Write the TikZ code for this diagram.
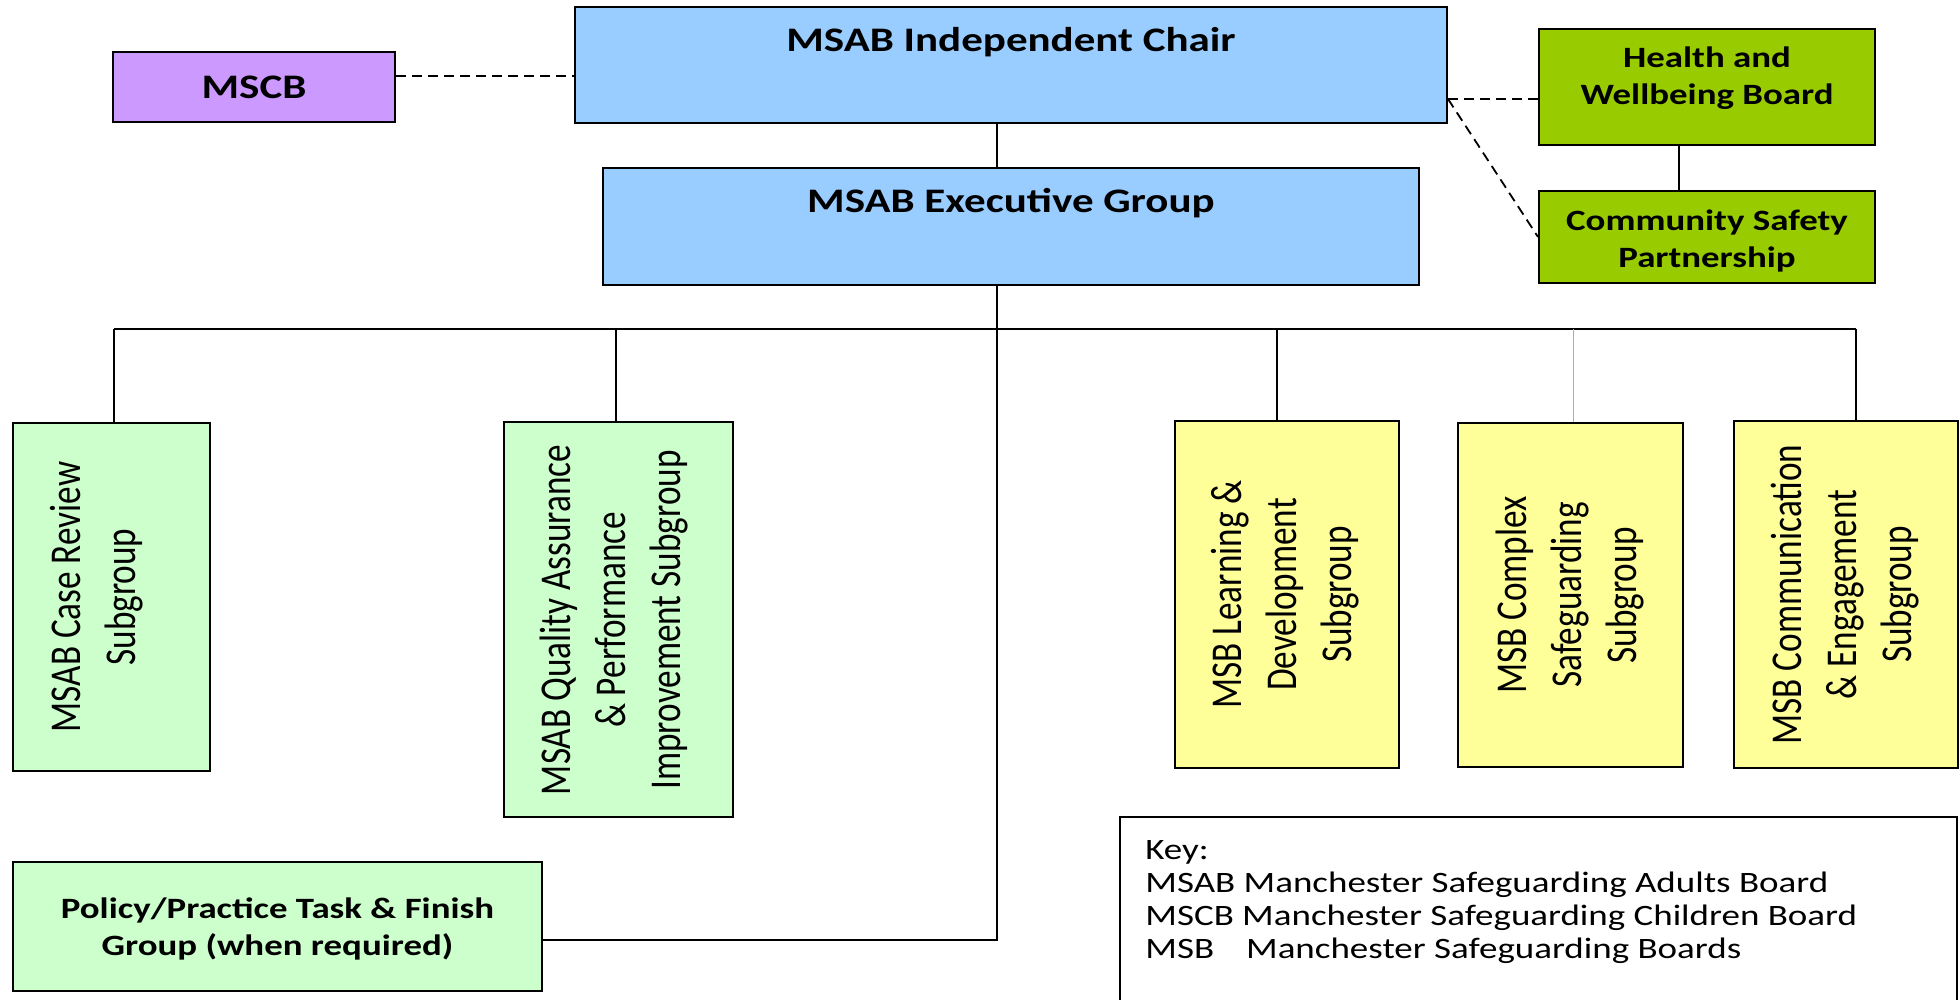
\documentclass[tikz,border=0pt]{standalone}
\usepackage{fontspec}
\setmainfont{Carlito}[FakeStretch=1.25]
\newfontfamily\rotfont{Carlito}[FakeStretch=0.8]

\definecolor{chairblue}{HTML}{99CCFF}
\definecolor{boardpurple}{HTML}{CC99FF}
\definecolor{partnergreen}{HTML}{99CC00}
\definecolor{subgreen}{HTML}{CCFFCC}
\definecolor{subyellow}{HTML}{FFFF99}
\definecolor{linkblue}{HTML}{8DB4E2}

\tikzset{
  box/.style={draw, line width=1pt, inner sep=0pt},
  headtxt/.style={font=\bfseries\fontsize{17.2}{20}\selectfont, inner sep=0pt},
  boldtxt/.style={font=\bfseries\fontsize{14.75}{18.5}\selectfont, align=center, inner sep=0pt},
  rottxt/.style={rotate=90, font=\rotfont\fontsize{22}{27.5}\selectfont, align=center, inner sep=0pt},
  link/.style={line width=0.9pt},
  dashlink/.style={line width=0.9pt, dash pattern=on 5pt off 3pt}
}

\begin{document}
\begin{tikzpicture}[x=0.5pt,y=-0.5pt]

\useasboundingbox (0,0) rectangle (1960,1000);

% board and executive
\node[box, fill=chairblue, minimum width=436pt, minimum height=58pt] (chair) at (1011,65) {};
\node[headtxt, anchor=base] (chairtxt) at (1011,52) {MSAB Independent Chair};

\node[box, fill=chairblue, minimum width=408pt, minimum height=58.5pt] (exec) at (1011,226.5) {};
\node[headtxt, anchor=base] (exectxt) at (1011,213) {MSAB Executive Group};

\node[box, headtxt, fill=boardpurple, minimum width=141pt, minimum height=35pt] (mscb) at (254,87) {MSCB};

% partners
\node[box, fill=partnergreen, minimum width=168pt, minimum height=58pt] (hwb) at (1707,87) {};
\node[boldtxt] (hwbtxt) at (1707,78.5) {Health and\\Wellbeing Board};

\node[box, fill=partnergreen, minimum width=168pt, minimum height=46pt] (csp) at (1707,237) {};
\node[boldtxt] (csptxt) at (1707,240.5) {Community Safety\\Partnership};

% subgroups
\node[box, fill=subgreen, minimum width=98.5pt, minimum height=174pt] (case) at (111.5,597) {};
\node[rottxt] (casetxt) at (97,597) {MSAB Case Review\\Subgroup};

\node[box, fill=subgreen, minimum width=114.5pt, minimum height=197.5pt] (qa) at (618.5,619.5) {};
\node[rottxt] (qatxt) at (614,620) {MSAB Quality Assurance\\\& Performance\\Improvement Subgroup};

\node[box, fill=subyellow, minimum width=112pt, minimum height=173.5pt] (ld) at (1287,594.5) {};
\node[rottxt] (ldtxt) at (1285,594.5) {MSB Learning \&\\Development\\Subgroup};

\node[box, fill=subyellow, minimum width=112.5pt, minimum height=172pt] (cx) at (1570.5,595) {};
\node[rottxt] (cxtxt) at (1570,595) {MSB Complex\\Safeguarding\\Subgroup};

\node[box, fill=subyellow, minimum width=112pt, minimum height=173.5pt] (cm) at (1846,594.5) {};
\node[rottxt] (cmtxt) at (1845,594.5) {MSB Communication\\\& Engagement\\Subgroup};

\node[box, fill=subgreen, minimum width=264.5pt, minimum height=64.5pt] (policy) at (277.5,926.5) {};
\node[boldtxt] (policytxt) at (277.5,928.5) {Policy/Practice Task \& Finish\\Group (when required)};

% key
\node[box, anchor=north west, minimum width=418.5pt, minimum height=100pt] (key) at (1119,816) {};
\node[font=\fontsize{14.8}{16.5}\selectfont, align=left, anchor=north west, inner sep=0pt] (keytxt) at (1145,840)
  {Key:\\MSAB Manchester Safeguarding Adults Board\\MSCB Manchester Safeguarding Children Board\\MSB\hspace{16pt}Manchester Safeguarding Boards};

% links
\draw[dashlink] ([yshift=5.5pt]mscb.east) -- ([yshift=5.5pt]mscb.east -| chair.west);
\coordinate (chairR) at ([yshift=-17pt]chair.east);
\draw[dashlink] (chairR) -- (chairR -| hwb.west);
\draw[dashlink] (chairR) -- (csp.west);
\draw[link] ([xshift=-14pt]hwb.south) -- ([xshift=-14pt]csp.north);

\draw[link] ([xshift=-7pt]chair.south) -- ([xshift=-7pt]exec.north);
\coordinate (spine) at ([xshift=-7pt]exec.south);
\draw[link] (spine) |- ([yshift=-6.75pt]policy.east);

\coordinate (busL) at (114,329);
\coordinate (busR) at (1856,329);
\draw[link] (busL) -- (busR);
\draw[link] (busL) -- (busL |- case.north);
\draw[link] (busR) -- (busR |- cm.north);
\coordinate (qatop) at ([xshift=-1.25pt]qa.north);
\draw[link] (qatop) -- (qatop |- busL);
\coordinate (ldtop) at ([xshift=-5pt]ld.north);
\draw[link] (ldtop) -- (ldtop |- busL);
\coordinate (cxtop) at ([xshift=1.25pt]cx.north);
\draw[linkblue, line width=0.5pt] (cxtop) -- (cxtop |- busL);

\end{tikzpicture}
\end{document}
